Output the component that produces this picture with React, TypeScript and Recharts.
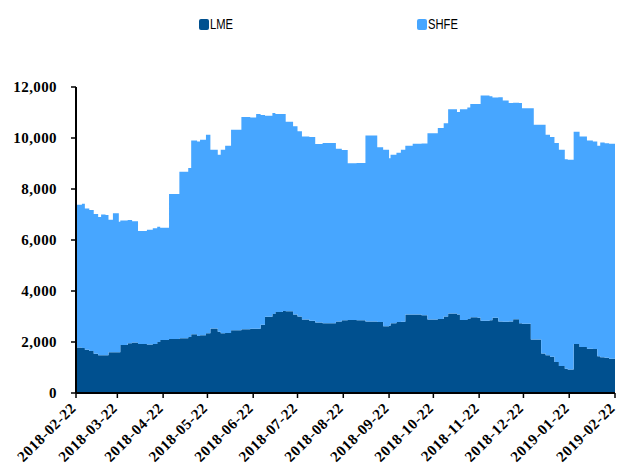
import React from "react";
import { AreaChart, Area, XAxis, YAxis } from "recharts";

const dates: string[] = [
  "2018-02-22","2018-02-26","2018-02-28","2018-03-03","2018-03-06","2018-03-09","2018-03-11","2018-03-14",
  "2018-03-16","2018-03-19","2018-03-23","2018-03-24","2018-03-29","2018-04-01","2018-04-05","2018-04-11",
  "2018-04-15","2018-04-18","2018-04-20","2018-04-26","2018-05-03","2018-05-09","2018-05-11","2018-05-15",
  "2018-05-17","2018-05-21","2018-05-24","2018-05-29","2018-05-31","2018-06-03","2018-06-07","2018-06-14",
  "2018-06-20","2018-06-24","2018-06-27","2018-06-30","2018-07-05","2018-07-07","2018-07-12","2018-07-14",
  "2018-07-19","2018-07-22","2018-07-25","2018-07-30","2018-08-03","2018-08-08","2018-08-17","2018-08-21",
  "2018-08-25","2018-08-31","2018-09-06","2018-09-14","2018-09-18","2018-09-22","2018-09-23","2018-09-27",
  "2018-09-30","2018-10-03","2018-10-08","2018-10-14","2018-10-18","2018-10-25","2018-10-29","2018-11-01",
  "2018-11-07","2018-11-09","2018-11-14","2018-11-16","2018-11-21","2018-11-23","2018-11-29","2018-12-01",
  "2018-12-05","2018-12-08","2018-12-12","2018-12-15","2018-12-19","2018-12-21","2018-12-27","2018-12-29",
  "2019-01-03","2019-01-06","2019-01-09","2019-01-12","2019-01-15","2019-01-19","2019-01-21","2019-01-25",
  "2019-01-29","2019-02-03","2019-02-07","2019-02-10","2019-02-12","2019-02-15","2019-02-18","2019-02-22",
];

const lme: number[] = [
  1780,1760,1700,1650,1540,1480,1480,1480,
  1600,1600,1600,1880,1950,1980,1920,1900,
  1920,2000,2080,2120,2150,2200,2300,2240,
  2260,2340,2530,2400,2340,2350,2460,2500,
  2520,2520,2680,2990,3100,3180,3220,3210,
  3080,3000,2880,2830,2760,2740,2800,2850,
  2860,2850,2800,2780,2620,2640,2740,2780,
  2790,3080,3080,3050,2880,2900,3000,3120,
  3080,2860,2900,2970,2950,2830,2850,2950,
  2800,2790,2800,2890,2740,2720,2100,2100,
  1550,1480,1420,1220,1060,950,920,1920,
  1800,1740,1730,1440,1400,1380,1340,1360,
];

const shfe: number[] = [
  5600,5660,5540,5530,5480,5420,5520,5500,
  5190,5450,5120,4880,4830,4760,4430,4500,
  4540,4520,4400,5680,6530,6620,7600,7620,
  7670,7790,7010,6940,7200,7350,7860,8320,
  8280,8420,8220,7880,7880,7760,7720,7430,
  7380,7260,7180,7210,7000,7060,6780,6680,
  6150,6170,7300,6860,6920,6570,6600,6640,
  6750,6620,6690,6730,7310,7490,7580,8010,
  7940,8270,8300,8360,8380,8840,8790,8640,
  8800,8680,8570,8490,8630,8450,9070,8420,
  8970,8650,8620,8580,8480,8220,8230,8330,
  8260,8160,8130,8260,8420,8410,8430,8370,
];

const tickLabels: string[] = [
  "2018-02-22","2018-03-22","2018-04-22","2018-05-22","2018-06-22","2018-07-22","2018-08-22",
  "2018-09-22","2018-10-22","2018-11-22","2018-12-22","2019-01-22","2019-02-22",
];

const yTicks: number[] = [0, 2000, 4000, 6000, 8000, 10000, 12000];

const toTime = (s: string) => Date.parse(s + "T00:00:00Z");
const fmtDate = (t: number) => new Date(t).toISOString().slice(0, 10);

const data = dates.map((d, i) => ({ t: toTime(d), LME: lme[i], SHFE: shfe[i] }));
const xTicks = tickLabels.map(toTime);

const SERIF = "'Liberation Serif', 'DejaVu Serif', serif";

const XTick = (props: any) => {
  const { x, y, payload } = props;
  return (
    <text
      transform={`translate(${x + 1},${y + 9}) rotate(-45)`}
      textAnchor="end"
      fontFamily={SERIF}
      fontWeight="bold"
      fontSize={15}
      letterSpacing={0.6}
      fill="#000"
    >
      {fmtDate(payload.value)}
    </text>
  );
};

const YTick = (props: any) => {
  const { x, y, payload } = props;
  return (
    <text
      x={x}
      y={y}
      dy={5}
      textAnchor="end"
      fontFamily={SERIF}
      fontWeight="bold"
      fontSize={15}
      letterSpacing={0.4}
      fill="#000"
    >
      {Number(payload.value).toLocaleString("en-US")}
    </text>
  );
};

const LEGEND_FONT = "'Liberation Sans', Arial, sans-serif";

const legendText: React.CSSProperties = {
  display: "inline-block",
  transform: "scaleX(0.8)",
  transformOrigin: "left center",
  fontFamily: LEGEND_FONT,
  fontSize: 14,
  lineHeight: "14px",
  color: "#000",
};

export default function App() {
  return (
    <div style={{ position: "absolute", left: 0, top: 0, width: 618, height: 469, background: "#fff" }}>
      <div style={{ position: "absolute", left: 199, top: 17, display: "flex", alignItems: "center" }}>
        <span style={{ width: 10, height: 11, background: "#00508F", borderRadius: 2, display: "inline-block", marginRight: 1 }} />
        <span style={legendText}>LME</span>
      </div>
      <div style={{ position: "absolute", left: 417, top: 17, display: "flex", alignItems: "center" }}>
        <span style={{ width: 10, height: 11, background: "#47A6FF", borderRadius: 2, display: "inline-block", marginRight: 1 }} />
        <span style={legendText}>SHFE</span>
      </div>
      <AreaChart
        width={618}
        height={469}
        data={data}
        margin={{ top: 87, right: 3, bottom: 0, left: 0 }}
      >
        <XAxis
          dataKey="t"
          type="number"
          scale="linear"
          domain={[xTicks[0], xTicks[xTicks.length - 1]]}
          ticks={xTicks}
          interval={0}
          height={76}
          tick={<XTick />}
          tickSize={5}
          axisLine={{ stroke: "#000", strokeWidth: 2 }}
          tickLine={{ stroke: "#000", strokeWidth: 1.5 }}
          allowDataOverflow
        />
        <YAxis
          type="number"
          domain={[0, 12000]}
          ticks={yTicks}
          interval={0}
          width={76}
          tickSize={5}
          tickMargin={14}
          tick={<YTick />}
          axisLine={{ stroke: "#000", strokeWidth: 2 }}
          tickLine={{ stroke: "#000", strokeWidth: 1.5 }}
          allowDataOverflow
        />
        <Area
          type="stepAfter"
          dataKey="LME"
          stackId="1"
          fill="#00508F"
          fillOpacity={1}
          stroke="none"
          isAnimationActive={false}
        />
        <Area
          type="stepAfter"
          dataKey="SHFE"
          stackId="1"
          fill="#47A6FF"
          fillOpacity={1}
          stroke="none"
          isAnimationActive={false}
        />
      </AreaChart>
    </div>
  );
}
